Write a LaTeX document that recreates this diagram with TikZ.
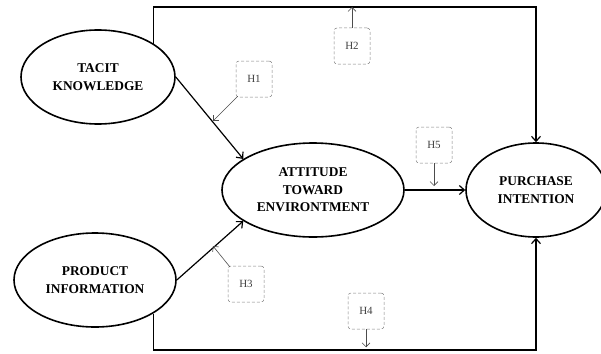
\documentclass[tikz,border=0pt]{standalone}
\usepackage{fontspec}
\setmainfont{Liberation Serif}
\usetikzlibrary{shapes.geometric,arrows.meta}
\begin{document}
\begin{tikzpicture}[x=1pt,y=-1pt,
  construct/.style={ellipse,draw,line width=1.6pt,inner sep=0pt,align=center,
    font=\fontsize{13.4}{17.5}\selectfont\bfseries},
  hbox/.style={draw=gray,densely dashed,line width=0.5pt,rounded corners=3pt,
    minimum width=36pt,minimum height=36pt,inner sep=0pt,
    font=\fontsize{11}{12}\selectfont,text=black!75},
  link/.style={line width=1.2pt,-{Straight Barb[length=5pt,width=9pt]}},
  hlink/.style={line width=0.6pt,black!70,-{Straight Barb[length=4pt,width=8pt]}}]
\useasboundingbox (0,0) rectangle (601,353);
\node[construct,minimum width=154pt,minimum height=94pt] (tacit) at (98,77) {TACIT\\KNOWLEDGE};
\node[construct,minimum width=162pt,minimum height=94pt] (prod) at (95,280) {PRODUCT\\INFORMATION};
\node[construct,minimum width=182pt,minimum height=94pt] (att) at (313,190) {ATTITUDE\\TOWARD\\ENVIRONTMENT};
\node[construct,minimum width=140pt,minimum height=94pt] (purch) at (536,190) {PURCHASE\\INTENTION};
\coordinate (tr) at (536,7);
\coordinate (br) at (536,350);
\draw[link] (tacit.31) |- (tr) -- (purch.north);
\draw[link] (prod.330) |- (br) -- (purch.south);
\draw[link] (tacit.east) -- (att.156);
\draw[link] (prod.east) -- (att.204);
\draw[link] (att.east) -- (purch.west);
\node[hbox] (h1) at (254,79) {H1};
\node[hbox] (h2) at (352,46) {H2};
\node[hbox] (h5) at (434,145) {H5};
\node[hbox] (h3) at (246,284) {H3};
\node[hbox] (h4) at (366,311) {H4};
\coordinate (h1t) at (213,121);
\coordinate (h3t) at (213,246);
\coordinate (h5t) at (434,186);
\draw[hlink] (h1.south west) ++(2,-1) -- (h1t);
\draw[hlink] (h2.north) -- (h2.north |- tr);
\draw[hlink] (h5.south) -- (h5t);
\draw[hlink] (h3.north west) ++(2,1) -- (h3t);
\draw[hlink] (h4.south) -- ++(0,18);
\end{tikzpicture}
\end{document}
